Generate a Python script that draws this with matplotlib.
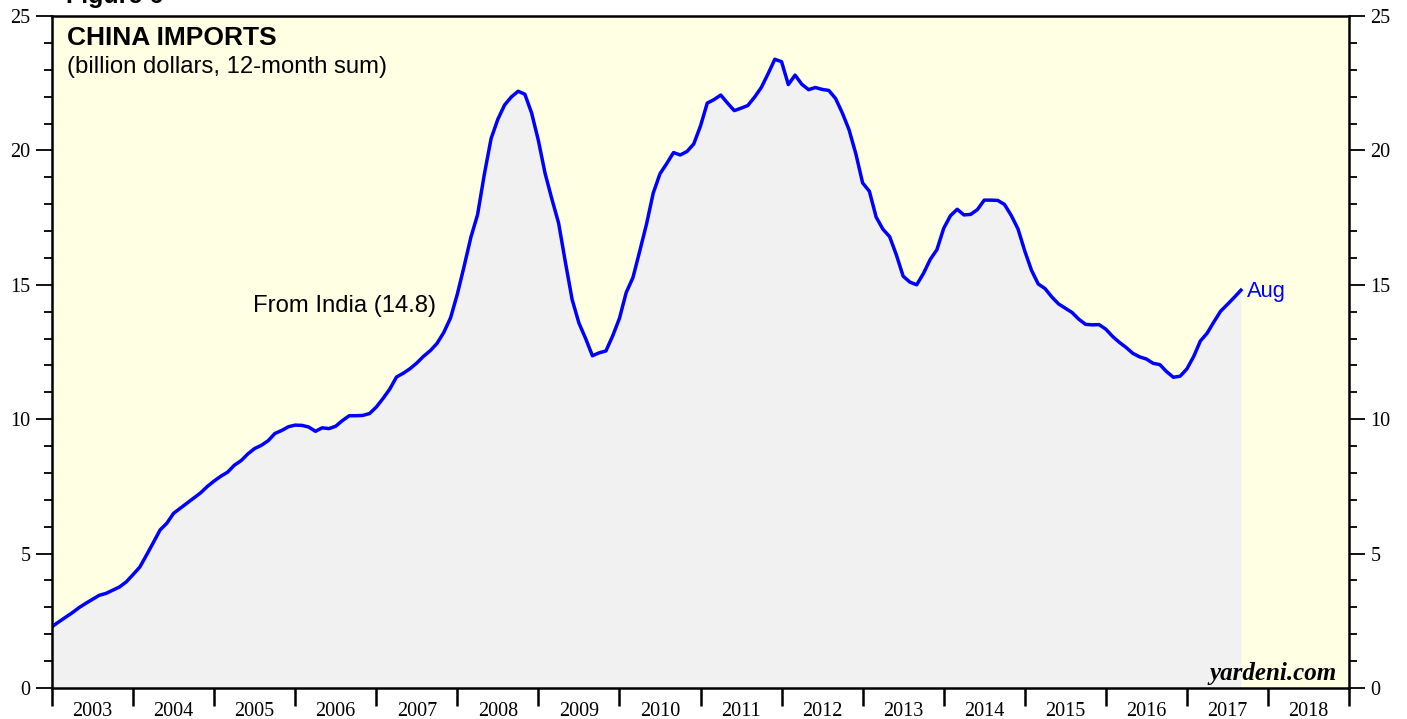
import numpy as np
import matplotlib
matplotlib.use("Agg")
import matplotlib.pyplot as plt
from matplotlib.ticker import MultipleLocator, FixedLocator, NullFormatter

# 12-month sum of China's imports from India, billion dollars.
# Monthly, first value = end of Dec 2002, last value = Aug 2017.
START_YEAR = 2003
india_2003 = [2.28, 2.46, 2.63, 2.80, 2.99, 3.15, 3.30, 3.45, 3.52, 3.64, 3.76, 3.95, 4.22]
india_2004 = [4.50, 4.95, 5.41, 5.88, 6.13, 6.50, 6.69, 6.88, 7.07, 7.26, 7.50, 7.70]
india_2005 = [7.88, 8.03, 8.29, 8.46, 8.71, 8.91, 9.03, 9.20, 9.47, 9.58, 9.72, 9.78]
india_2006 = [9.77, 9.71, 9.55, 9.68, 9.65, 9.74, 9.95, 10.13, 10.13, 10.14, 10.21, 10.45]
india_2007 = [10.77, 11.12, 11.57, 11.71, 11.88, 12.09, 12.34, 12.55, 12.82, 13.23, 13.77, 14.65]
india_2008 = [15.68, 16.76, 17.61, 19.11, 20.44, 21.16, 21.69, 21.99, 22.20, 22.09, 21.39, 20.37]
india_2009 = [19.14, 18.19, 17.29, 15.84, 14.45, 13.58, 13.00, 12.36, 12.47, 12.54, 13.10, 13.75]
india_2010 = [14.71, 15.27, 16.25, 17.25, 18.41, 19.13, 19.51, 19.92, 19.83, 19.96, 20.24, 20.91]
india_2011 = [21.76, 21.89, 22.06, 21.76, 21.48, 21.57, 21.67, 21.98, 22.34, 22.85, 23.39, 23.30]
india_2012 = [22.45, 22.80, 22.46, 22.26, 22.34, 22.27, 22.23, 21.93, 21.39, 20.76, 19.87, 18.79]
india_2013 = [18.48, 17.52, 17.07, 16.79, 16.11, 15.32, 15.10, 15.00, 15.42, 15.94, 16.31, 17.10]
india_2014 = [17.57, 17.81, 17.60, 17.62, 17.80, 18.15, 18.15, 18.14, 17.99, 17.58, 17.08, 16.26]
india_2015 = [15.54, 15.03, 14.86, 14.55, 14.29, 14.13, 13.97, 13.72, 13.53, 13.51, 13.52, 13.35]
india_2016 = [13.08, 12.86, 12.67, 12.45, 12.32, 12.24, 12.08, 12.03, 11.77, 11.56, 11.60, 11.87]
india_2017 = [12.33, 12.91, 13.20, 13.62, 14.02, 14.27, 14.53, 14.80]

YEARS = list(range(2003, 2019))
Y_MAX = 25
TITLE = "CHINA IMPORTS"
SUBTITLE = "(billion dollars, 12-month sum)"
SERIES_LABEL = "From India (14.8)"
LAST_MONTH = "Aug"

values = np.array(india_2003 + india_2004 + india_2005 + india_2006 + india_2007
                  + india_2008 + india_2009 + india_2010 + india_2011 + india_2012
                  + india_2013 + india_2014 + india_2015 + india_2016 + india_2017)
dates = START_YEAR + np.arange(len(values)) / 12.0

SERIF = "Liberation Serif"
SANS = "Liberation Sans"
BLUE = "#0000FF"

fig = plt.figure(figsize=(14.07, 7.19), dpi=100)
ax = fig.add_axes([52 / 1407, 31 / 719, 1297 / 1407, 672 / 719])
ax.set_facecolor("#FFFFE3")

ax.fill_between(dates, 0, values, color="#F1F1F1", lw=0, zorder=1)
ax.plot(dates, values, color=BLUE, lw=2.5, zorder=3)

ax.set_xlim(YEARS[0], YEARS[-1] + 1)
ax.set_ylim(0, Y_MAX)

for s in ax.spines.values():
    s.set_linewidth(1.8)
    s.set_zorder(5)

# y axis: both sides, major every 5, minor every 1
ax.yaxis.set_major_locator(MultipleLocator(5))
ax.yaxis.set_minor_locator(MultipleLocator(1))
ax.tick_params(axis="y", which="both", direction="out", left=True, right=True,
               labelleft=True, labelright=True, width=1.3, pad=4,
               labelsize=14.5)
ax.tick_params(axis="y", which="major", length=11.5)
ax.tick_params(axis="y", which="minor", length=6)

# x axis: ticks at year boundaries, labels centred in each year
ax.xaxis.set_major_locator(FixedLocator(YEARS + [YEARS[-1] + 1]))
ax.xaxis.set_major_formatter(NullFormatter())
ax.xaxis.set_minor_locator(FixedLocator([y + 0.5 for y in YEARS]))
ax.set_xticklabels([str(y) for y in YEARS], minor=True)
ax.tick_params(axis="x", which="major", direction="out", length=13, width=1.8)
ax.tick_params(axis="x", which="minor", length=0, pad=10, labelsize=14.5)

for lab in ax.get_xticklabels(minor=True) + ax.yaxis.get_ticklabels(which="both"):
    lab.set_fontfamily(SERIF)

ax.text(0.0116, 0.9568, TITLE, transform=ax.transAxes, fontsize=19,
        weight="bold", family=SANS, va="baseline", ha="left")
ax.text(0.0116, 0.9156, SUBTITLE, transform=ax.transAxes, fontsize=17.2,
        family=SANS, va="baseline", ha="left")
ax.text(2005.48, 13.98, SERIES_LABEL, fontsize=17.2, family=SANS,
        va="baseline", ha="left")
ax.annotate(LAST_MONTH, xy=(dates[-1], values[-1]), xytext=(4.5, -4.7),
            textcoords="offset points", color=BLUE, fontsize=15.8, family=SANS,
            va="baseline", ha="left")
ax.text(0.9905, 0.012, "yardeni.com", transform=ax.transAxes, fontsize=18,
        family=SERIF, weight="bold", style="italic", va="baseline", ha="right",
        zorder=6)

# page header, cut off by the top edge in the source
fig.text(0.047, 1 - 3 / 719, "Figure 6", fontsize=18, weight="bold",
         family=SANS, va="baseline", ha="left")

fig.savefig("out.png", dpi=100)
